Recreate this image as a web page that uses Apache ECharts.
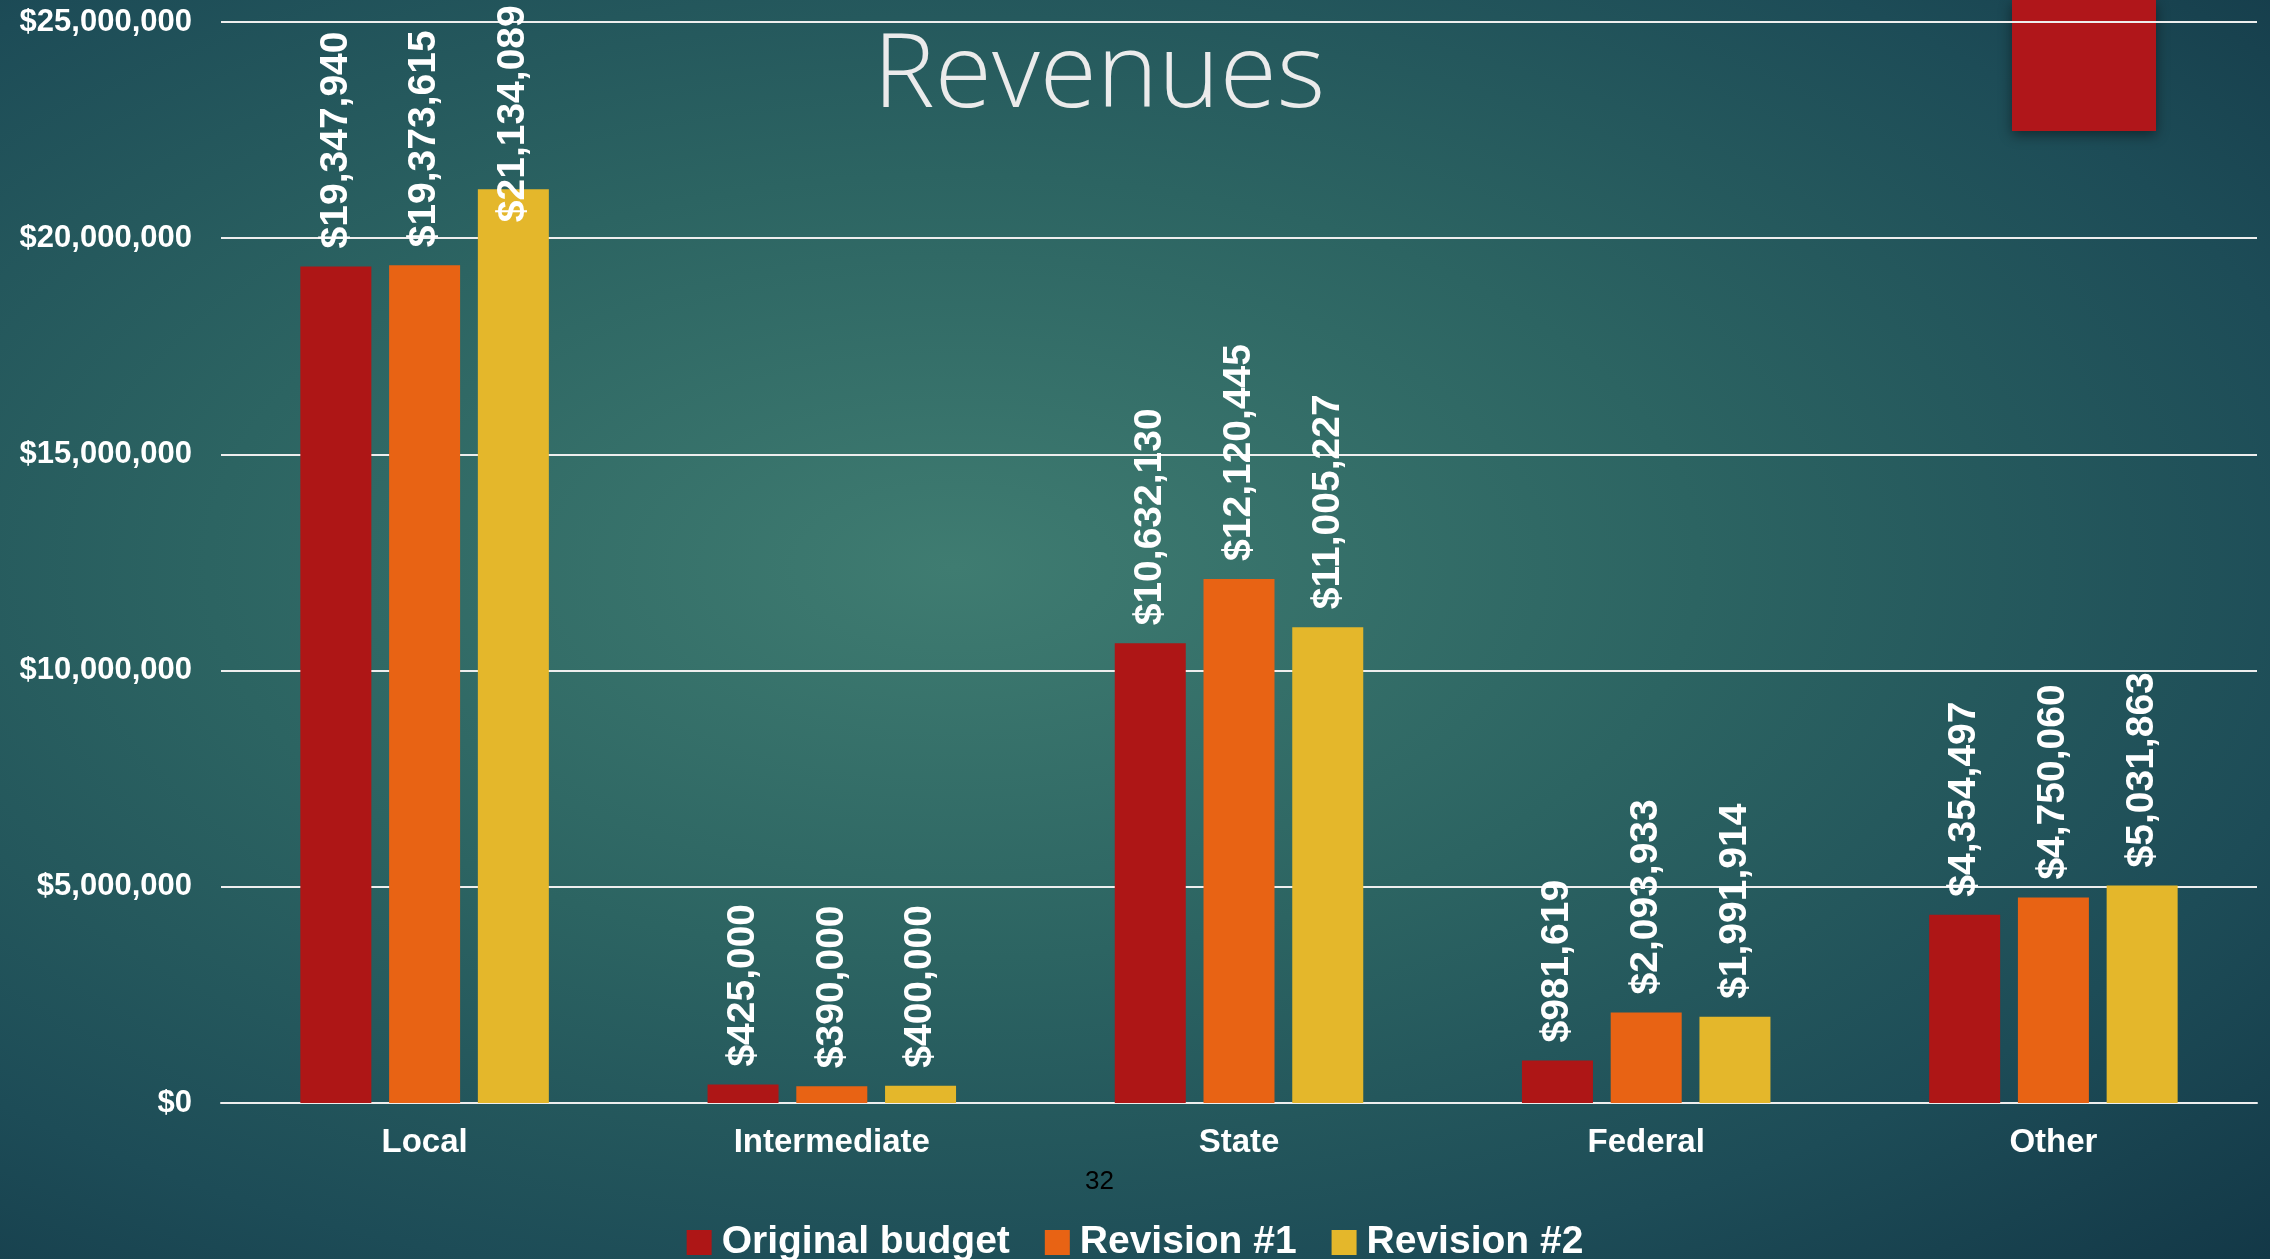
<!DOCTYPE html>
<html>
<head>
    <meta charset="utf-8">
    <title>Revenues</title>
    <script src="https://cdn.jsdelivr.net/npm/echarts@6/dist/echarts.min.js"></script>
    <style>
        html, body { margin: 0; padding: 0; }
        body {
            width: 2270px; height: 1259px; overflow: hidden;
            background: radial-gradient(ellipse farthest-corner at 42% 45%, #3f7c71 0%, #2c6462 40%, #1d4c57 75%, #133847 100%);
        }
    </style>
</head>
<body>
<div id="main" style="width: 2270px;height:1259px;"></div>
<script type="text/javascript">
    // chart data
    var categories = ['Local', 'Intermediate', 'State', 'Federal', 'Other'];
    var originalBudget = [19347940, 425000, 10632130, 981619, 4354497];
    var revision1 = [19373615, 390000, 12120445, 2093933, 4750060];
    var revision2 = [21134089, 400000, 11005227, 1991914, 5031863];
    var yTicks = [0, 5000000, 10000000, 15000000, 20000000, 25000000];

    var colors = ['#ae1616', '#e86314', '#e4b72b'];
    var FONT = 'Liberation Sans';

    function money(v) {
        return '$' + Number(v).toLocaleString('en-US');
    }

    // labels that would run off the top get pulled down into the bar
    function withLabels(arr) {
        return arr.map(function (v) {
            if (v > 20500000) {
                return { value: v, label: { distance: -33 } };
            }
            return v;
        });
    }

    var labelStyle = {
        show: true,
        position: 'top',
        rotate: 90,
        align: 'left',
        verticalAlign: 'middle',
        distance: 18,
        color: '#ffffff',
        fontFamily: FONT,
        fontWeight: 'bold',
        fontSize: 39,
        formatter: function (p) { return money(p.value); }
    };

    function makeSeries(name, arr) {
        return {
            name: name,
            type: 'bar',
            barWidth: 71,
            barGap: '25%',
            data: withLabels(arr),
            label: labelStyle
        };
    }

    var myChart = echarts.init(document.getElementById('main'));

    var option = {
        backgroundColor: 'transparent',
        color: colors,
        animation: false,
        title: {
            text: 'Revenues',
            left: 868,
            top: 20,
            textStyle: {
                color: '#ebebeb',
                fontFamily: 'Open Sans',
                fontWeight: 300,
                fontSize: 104
            }
        },
        graphic: [{
            type: 'rect',
            z: -10,
            silent: true,
            shape: { x: 2012, y: 0, width: 144, height: 131 },
            style: {
                fill: '#b0161a',
                shadowBlur: 12,
                shadowColor: 'rgba(0,0,0,0.45)',
                shadowOffsetY: 4
            }
        }, {
            type: 'text',
            silent: true,
            left: 1085,
            top: 1169,
            style: {
                text: '32',
                fill: '#000000',
                fontFamily: FONT,
                fontSize: 26
            }
        }],
        legend: {
            data: ['Original budget', 'Revision #1', 'Revision #2'],
            left: 'center',
            top: 1218,
            icon: 'rect',
            itemWidth: 25,
            itemHeight: 25,
            itemGap: 35,
            textStyle: {
                color: '#ffffff',
                fontFamily: FONT,
                fontWeight: 'bold',
                fontSize: 39,
                padding: [0, 0, 0, 5]
            }
        },
        grid: {
            left: 221,
            right: 13,
            top: 22,
            bottom: 156
        },
        xAxis: {
            type: 'category',
            data: categories,
            axisTick: { show: false },
            axisLine: { lineStyle: { color: '#eeeeee', width: 2 } },
            axisLabel: {
                margin: 23,
                color: '#ffffff',
                fontFamily: FONT,
                fontWeight: 'bold',
                fontSize: 33
            }
        },
        yAxis: {
            type: 'value',
            min: yTicks[0],
            max: yTicks[yTicks.length - 1],
            interval: yTicks[1] - yTicks[0],
            axisLine: { show: false },
            axisTick: { show: false },
            splitLine: { lineStyle: { color: '#eeeeee', width: 2 } },
            axisLabel: {
                margin: 29,
                color: '#ffffff',
                fontFamily: FONT,
                fontWeight: 'bold',
                fontSize: 31,
                formatter: money
            }
        },
        series: [
            makeSeries('Original budget', originalBudget),
            makeSeries('Revision #1', revision1),
            makeSeries('Revision #2', revision2)
        ]
    };

    myChart.setOption(option);
</script>
</body>
</html>
